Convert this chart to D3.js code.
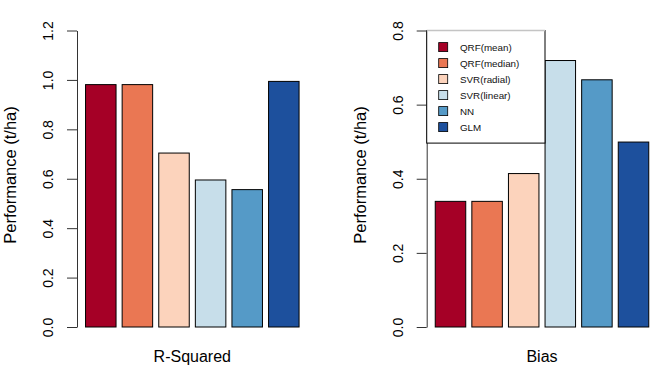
<!DOCTYPE html>
<html>
<head>
<meta charset="utf-8">
<script src="https://cdn.jsdelivr.net/npm/d3@7"></script>
<style>
  body { margin: 0; background: #fff; }
  text { font-family: Arial, "Liberation Sans", Helvetica, sans-serif; }
</style>
</head>
<body>
<svg id="chart" width="665" height="384"></svg>
<script>
// data
var models = ["QRF(mean)", "QRF(median)", "SVR(radial)", "SVR(linear)", "NN", "GLM"];
var colors = ["#A50026", "#EA7753", "#FCD3BC", "#C7DEEA", "#559AC7", "#1D509D"];
var rsquared = [0.981, 0.981, 0.704, 0.595, 0.556, 0.994];
var bias = [0.339, 0.339, 0.414, 0.719, 0.667, 0.499];
var rsqTicks = [0, 0.2, 0.4, 0.6, 0.8, 1.0, 1.2];
var biasTicks = [0, 0.2, 0.4, 0.6, 0.8];

var svg = d3.select("#chart");
svg.append("rect").attr("width", 665).attr("height", 384).attr("fill", "#fff");

var fmt = d3.format(".1f");

// one barplot panel, R style (bar width 1, space 0.2)
function drawPanel(left, values, ticks, xlabel, withLegend) {
    var x = d3.scaleLinear().domain([-0.08, 7.48]).range([left, left + 230.6]);
    var y = d3.scaleLinear().domain([0, ticks[ticks.length - 1]]).range([327, 30.5]);
    var g = svg.append("g");

    g.selectAll("rect.bar")
        .data(values)
        .enter().append("rect")
        .attr("class", "bar")
        .attr("x", function(d, i) { return x(0.2 + i * 1.2); })
        .attr("width", function() { return x(1) - x(0); })
        .attr("y", function(d) { return y(d); })
        .attr("height", function(d) { return y(0) - y(d); })
        .attr("fill", function(d, i) { return colors[i]; })
        .attr("stroke", "#000")
        .attr("stroke-width", 1);

    var axis = d3.axisLeft(y).tickValues(ticks).tickSize(10).tickSizeOuter(0).tickFormat(fmt);
    var ax = g.append("g").attr("transform", "translate(" + left + ",0)").call(axis);
    ax.select(".domain").attr("stroke", "#333");
    ax.selectAll(".tick line").attr("stroke", "#333");
    ax.selectAll(".tick text")
        .attr("x", null).attr("dy", null)
        .attr("transform", "translate(-24,0) rotate(-90)")
        .attr("text-anchor", "middle")
        .attr("fill", "#000")
        .style("font-size", "14px")
        .style("font-family", "Arial, 'Liberation Sans', Helvetica, sans-serif");

    // axis titles
    g.append("text")
        .attr("transform", "translate(" + (left - 61) + ",175) rotate(-90)")
        .attr("text-anchor", "middle")
        .style("font-size", "16.5px")
        .text("Performance (t/ha)");
    g.append("text")
        .attr("x", (x.range()[0] + x.range()[1]) / 2)
        .attr("y", 362)
        .attr("text-anchor", "middle")
        .style("font-size", "16px")
        .text(xlabel);

    if (withLegend) {
        var lx = left, ly = y(ticks[ticks.length - 1]), lw = 118.3, lh = 112.6;
        var lg = g.append("g");
        lg.append("rect")
            .attr("x", lx).attr("y", ly).attr("width", lw).attr("height", lh)
            .attr("fill", "#fff").attr("stroke", "#000");
        lg.append("line")
            .attr("x1", lx).attr("x2", lx + lw).attr("y1", ly).attr("y2", ly)
            .attr("stroke", "#c4c4c4").attr("stroke-width", 1.5);
        var items = lg.selectAll("g.item")
            .data(models)
            .enter().append("g")
            .attr("transform", function(d, i) { return "translate(" + (lx + 12) + "," + (ly + 16.6 + i * 16) + ")"; });
        items.append("rect")
            .attr("x", 0).attr("y", -4.5).attr("width", 9).attr("height", 9)
            .attr("fill", function(d, i) { return colors[i]; })
            .attr("stroke", "#000").attr("stroke-width", 0.8);
        items.append("text")
            .attr("x", 21.3).attr("dy", "0.35em")
            .style("font-size", "9.8px")
            .attr("fill", "#111")
            .text(function(d) { return d; });
    }
}

drawPanel(77, rsquared, rsqTicks, "R-Squared", false);
drawPanel(426.7, bias, biasTicks, "Bias", true);
</script>
</body>
</html>
